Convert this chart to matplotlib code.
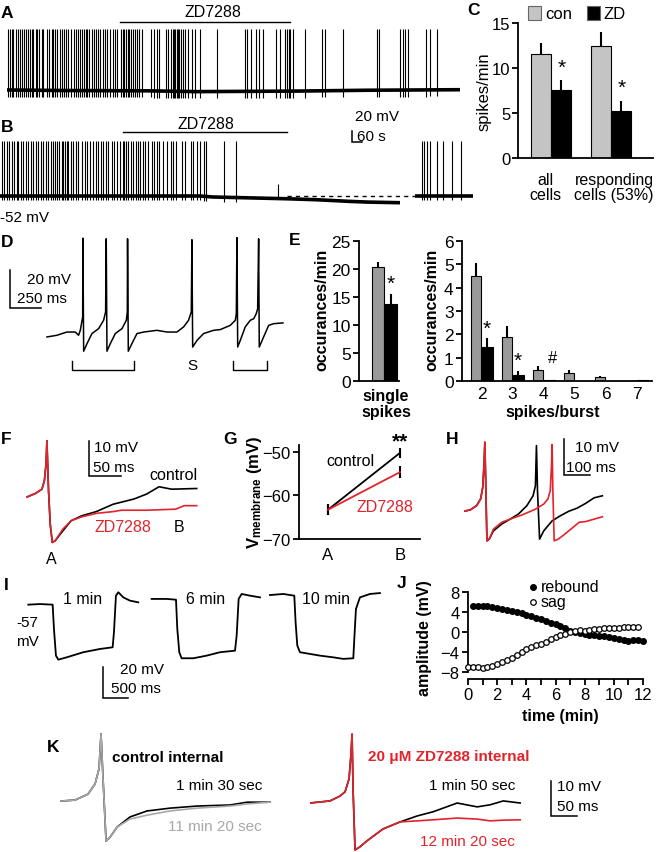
import matplotlib
matplotlib.use('Agg')
import matplotlib.pyplot as plt
import numpy as np

plt.rcParams['font.family'] = ['Liberation Sans', 'DejaVu Sans']
plt.rcParams['mathtext.fontset'] = 'custom'
plt.rcParams['mathtext.rm'] = 'Liberation Sans'
plt.rcParams['mathtext.bf'] = 'Liberation Sans:bold'

# ---------------- data ----------------
# A / B : long recordings, time in min, Vm in mV
a_base_t = [0, 6, 14, 19, 29, 36, 45.3]
a_base_v = [-55, -56, -56.5, -58, -57, -55.5, -54.5]
a_peak = 55
a_spikes = [0.13, 0.3, 0.47, 0.63, 0.9, 1.13, 1.3, 1.5, 1.7, 1.9, 2.1, 2.3, 2.5, 2.63, 2.9,
            3.03, 3.23, 3.47, 3.57, 4.03, 4.23, 4.47, 4.63, 4.83, 5.03, 5.3, 5.5, 5.7, 5.9,
            6.13, 6.37, 6.7, 6.9, 7.13, 7.3, 7.5, 7.7, 7.9, 8.03, 8.23, 8.47, 8.7, 8.9, 9.13,
            9.3, 9.57, 9.8, 10.03, 10.3, 10.57, 10.8, 11.03, 11.37, 11.57, 11.7, 11.9, 12.07,
            12.23, 12.37, 12.57, 12.8, 13.03, 13.23, 13.47, 14.37, 14.7, 14.97, 15.23, 15.9,
            16.13, 16.37, 16.57, 16.7, 16.83, 16.97, 17.1, 17.23, 17.37, 17.57, 17.83, 18.13,
            18.47, 18.8, 19.3, 20.97, 23.8, 24.03, 24.37, 24.9, 25.23, 25.63, 26.9, 27.3, 27.8,
            27.97, 28.17, 28.3, 28.63, 29.8, 31.47, 31.8, 33.63, 36.97, 37.23, 39.3, 39.57,
            39.77, 40.13, 41.9, 42.3, 42.97]

b_base_t = [0, 20, 21.3, 28.7, 31.7, 35, 36.7, 40]
b_base_v = [-52, -52, -53.8, -57, -58.8, -61.8, -63, -64.2]
b_late_t = [41.5, 47.3]
b_late_v = [-52, -52]
b_rest = -52
b_peak = 48
b_spikes = [0.17, 0.4, 0.67, 0.93, 1.17, 1.4, 1.67, 1.83, 2.07, 2.33, 2.6, 2.83, 3.07, 3.33,
            3.6, 3.83, 4.07, 4.33, 4.6, 4.83, 5.07, 5.33, 5.5, 5.67, 5.93, 6.17, 6.33, 6.5,
            6.67, 6.83, 7.07, 7.33, 7.6, 7.83, 8.17, 8.5, 8.73, 9.0, 9.27, 9.6, 9.83, 10.07,
            10.33, 10.6, 10.83, 11.17, 11.4, 11.67, 12.0, 12.27, 12.4, 12.6, 12.83, 13.07,
            13.33, 13.6, 13.83, 14.0, 14.27, 14.5, 14.83, 15.17, 15.4, 15.67, 15.93, 16.33,
            16.67, 17.07, 17.33, 17.6, 18.17, 18.5, 19.07, 19.33, 19.73, 20.0, 20.4, 20.6,
            22.4, 23.6]
b_small_spike_t = [27.83]
b_small_spike_peak = -30
b_late_spikes = [42.17, 42.4, 42.67, 43.0, 43.67, 44.33, 45.17, 46.07]

# C : spikes/min
c_groups = ['all\ncells', 'responding\ncells (53%)']
c_con = [11.55, 12.5]
c_con_err = [1.25, 1.55]
c_zd = [7.6, 5.25]
c_zd_err = [1.05, 1.1]

# D : burst / single spike trace (ms, mV)
d_t = [0, 81, 161, 228, 255, 269, 288, 290, 296, 323, 363, 417, 457, 473, 478, 484, 511, 551,
       605, 640, 648, 650, 656, 685, 726, 780, 887, 968, 1048, 1102, 1142, 1164, 1169, 1175,
       1210, 1263, 1344, 1398, 1478, 1519, 1527, 1532, 1538, 1559, 1599, 1640, 1667, 1688,
       1699, 1707, 1712, 1747, 1788, 1828, 1903]
d_v = [-60, -59.1, -57.4, -57.4, -59.1, -56.5, -49.5, -8, -67.5, -63.5, -58.2, -55.6, -51.2,
       -46.8, -8.3, -67.5, -63.5, -58.2, -55.6, -51.2, -46.8, -8.3, -67.5, -63.5, -58.2, -57.4,
       -56.5, -57.4, -57.4, -54.7, -51.2, -46.8, -8.8, -65.3, -61.8, -58.2, -56.5, -56.1, -53.9,
       -51.2, -47.7, -7.7, -65.3, -61.8, -54.7, -51.2, -50.4, -47.7, -45.1, -8.3, -65.3, -60,
       -53.9, -53, -52.6]

# E : occurances/min
e_single_con, e_single_con_err = 20.3, 0.9
e_single_zd, e_single_zd_err = 13.75, 1.75
e_burst_sizes = [2, 3, 4, 5, 6, 7]
e_burst_con = [4.5, 1.87, 0.49, 0.34, 0.16, 0.0]
e_burst_con_err = [0.55, 0.5, 0.17, 0.15, 0.07, 0.0]
e_burst_zd = [1.47, 0.26, 0.04, 0.0, 0.0, 0.05]
e_burst_zd_err = [0.36, 0.18, 0.0, 0.0, 0.0, 0.0]

# F : AHP trace (ms, mV)
f_pre_t = [0, 12.8, 22.5, 26.3, 28.9, 30.2, 32.7, 35.3, 38.5, 43.0]
f_pre_v = [-51.0, -50.0, -48.8, -46.4, -41.6, -35.0, -49.2, -58.8, -64, -63.5]
f_con_t = [54.6, 67.4, 83.5, 105.9, 131.6, 163.7, 183, 202.2, 221.5, 260]
f_con_v = [-60.7, -57.8, -56.4, -55.2, -53.1, -51.6, -50.2, -48.1, -48.8, -48.6]
f_zd_t = [54.6, 67.4, 83.5, 105.9, 131.6, 144.5, 183, 227.9, 240.8, 260]
f_zd_v = [-60.2, -57.8, -56.7, -55.7, -55.2, -54.8, -54.8, -54.5, -53.5, -53.5]

# G : Vm at A and B
g_points = ['A', 'B']
g_con = [-63.3, -50.3]
g_con_err = [1.3, 1.2]
g_zd = [-63.3, -54.7]
g_zd_err = [1.3, 1.3]

# H : spike pairs (ms, mV)
h_pre_t = [0, 24, 48, 64, 72, 77, 80, 84, 88, 97]
h_pre_v = [-55.4, -55.0, -53.8, -51.8, -48.4, -41.6, -35.3, -49.4, -64, -63.5]
h_con_t = [113, 145, 177, 209, 241, 265, 274, 278, 282, 290, 306, 338, 370, 402, 434, 467, 499, 531]
h_con_v = [-61.1, -59.1, -57.7, -56.2, -53.8, -50.9, -48.0, -36.3, -49.4, -63.5, -61.1, -58.2,
           -56.7, -55.4, -54.5, -53.1, -51.5, -50.9]
h_zd_t = [113, 145, 177, 225, 274, 306, 322, 331, 336, 338, 341, 346, 362, 386, 418, 442, 467, 499, 531]
h_zd_v = [-60.6, -58.6, -57.7, -56.4, -54.8, -53.3, -51.8, -49.4, -41.6, -36.0, -49.4, -64,
          -63.5, -62.1, -60.1, -58.6, -58.4, -57.7, -57.0]

# I : hyperpolarizing steps (ms, mV)
i_labels = ['1 min', '6 min', '10 min']
i1_t = [0, 233, 487, 513, 553, 600, 767, 1100, 1433, 1687, 1713, 1753, 1800, 1900, 2033, 2200]
i1_v = [-57, -56.6, -57, -72.7, -89.9, -92.5, -91, -87.7, -85.6, -84.5, -74.8, -51.2, -49.0,
        -52.3, -54.4, -55.5]
i2_t = [0, 300, 487, 513, 553, 600, 833, 1100, 1367, 1667, 1700, 1740, 1800, 1967, 2167]
i2_v = [-53.3, -53.3, -53.8, -72.7, -87.8, -91.6, -91.6, -89.9, -87.7, -86.7, -77, -53.3,
        -50.1, -51.2, -52.3]
i3_t = [0, 267, 487, 513, 547, 600, 800, 1000, 1267, 1467, 1667, 1687, 1720, 1800, 2000, 2200]
i3_v = [-50.8, -50.1, -51.2, -68.4, -83.4, -87.7, -88.8, -89.9, -91, -92.0, -91.6, -79.1,
        -59.8, -52.3, -50.1, -49.5]

# J : amplitude vs time
j_rebound_t = [0.33, 0.67, 1.0, 1.33, 1.67, 2.0, 2.33, 2.67, 3.0, 3.33, 3.67, 4.0, 4.33, 4.67,
               5.0, 5.33, 5.67, 6.0, 6.33, 6.67, 7.0, 7.33, 7.67, 8.0, 8.33, 8.67, 9.0, 9.33,
               9.67, 10.0, 10.33, 10.67, 11.0, 11.33, 11.67, 12.0]
j_rebound = [5.2, 5.3, 5.2, 5.3, 5.1, 4.9, 4.7, 4.5, 4.3, 4.1, 3.8, 3.5, 3.2, 2.9, 2.6, 2.2,
             1.9, 1.7, 1.3, 0.8, 0.3, 0.0, -0.2, -0.3, -0.5, -0.6, -0.7, -0.8, -0.9, -1.1,
             -1.3, -1.5, -1.7, -1.6, -1.5, -1.7]
j_sag_t = [0, 0.33, 0.67, 1.0, 1.33, 1.67, 2.0, 2.33, 2.67, 3.0, 3.33, 3.67, 4.0, 4.33, 4.67,
           5.0, 5.33, 5.67, 6.0, 6.33, 6.67, 7.0, 7.33, 7.67, 8.0, 8.33, 8.67, 9.0, 9.33, 9.67,
           10.0, 10.33, 10.67, 11.0, 11.33, 11.67]
j_sag = [-7.0, -6.9, -7.0, -7.1, -6.9, -6.7, -6.4, -6.0, -5.5, -5.1, -4.5, -3.9, -3.4, -2.9,
         -2.5, -2.3, -1.9, -1.4, -1.0, -0.6, -0.3, 0.0, 0.2, 0.4, 0.3, 0.5, 0.6, 0.7, 0.8,
         0.8, 0.8, 0.9, 1.0, 1.0, 1.1, 1.1]

# K : internal ZD7288 (ms, mV)
k1_pre_t = [0, 28.8, 53.8, 67.3, 75, 78.8, 82.7, 88.5, 96, 109.6]
k1_pre_v = [-52.6, -52.3, -50.6, -47.7, -43.4, -33.4, -46.3, -64, -62.9, -60]
k1_early_t = [134.6, 167.3, 211.5, 263.5, 326.9, 359.6, 403.8]
k1_early_v = [-57.1, -55.4, -54.6, -54.0, -53.7, -52.9, -52.9]
k1_late_t = [134.6, 167.3, 211.5, 263.5, 326.9, 359.6, 403.8]
k1_late_v = [-57.7, -56.6, -55.4, -54.6, -54.0, -53.4, -52.9]
k2_pre_t = [0, 38.5, 57.7, 67.3, 75, 78.8, 80.8, 82.7, 86.5, 96.2, 109.6, 140.4, 173.1]
k2_pre_v = [-50.6, -50, -48.6, -47.4, -43.7, -36.6, -30.9, -46.6, -64, -63.1, -61.4, -58, -56]
k2_early_t = [205.8, 236.5, 282.7, 321.2, 346.2, 371.2, 403.8]
k2_early_v = [-54.3, -53.1, -50.6, -51.7, -51.1, -50.0, -50.6]
k2_late_t = [205.8, 236.5, 282.7, 321.2, 346.2, 371.2, 403.8]
k2_late_v = [-55.7, -55.4, -54.9, -55.2, -55.7, -55.5, -55.4]

# ---------------- layout helpers ----------------
RED = '#e3232c'
GRAY_C = '#c4c4c4'
GRAY_E = '#9a9a9a'
W, H = 656, 853
fig = plt.figure(figsize=(W / 100, H / 100), dpi=100)


def px_axes(x0, y0, x1, y1):
    return fig.add_axes([x0 / W, 1 - y1 / H, (x1 - x0) / W, (y1 - y0) / H])


def trace_axes(x0, y0, x1, y1, xlim, ylim):
    ax = px_axes(x0, y0, x1, y1)
    ax.set_xlim(xlim)
    ax.set_ylim(ylim)
    ax.axis('off')
    return ax


def join(*parts):
    return np.concatenate([np.asarray(p, dtype=float) for p in parts])


def bar_axes_style(ax, fs):
    for s in ['top', 'right']:
        ax.spines[s].set_visible(False)
    ax.spines['left'].set_linewidth(1.3)
    ax.spines['bottom'].set_linewidth(1.3)
    ax.tick_params(axis='y', direction='out', length=4, width=1.3, labelsize=fs, pad=2)
    ax.tick_params(axis='x', length=0, labelsize=fs)


# ---------------- A ----------------
axA = trace_axes(7, 25, 467, 105, (0, 46), (-80.5, 65))
axA.plot(a_base_t, a_base_v, color='black', lw=2.6, solid_capstyle='butt')
a_b = np.interp(a_spikes, a_base_t, a_base_v)
axA.vlines(a_spikes, a_b - 12, a_peak, color='black', lw=0.8)

# ---------------- B ----------------
axB = trace_axes(0, 135, 480, 215, (0, 48), (-84.7, 60.7))
axB.plot(b_base_t, b_base_v, color='black', lw=2.6, solid_capstyle='butt')
axB.plot(b_late_t, b_late_v, color='black', lw=2.6, solid_capstyle='butt')
b_b = np.interp(b_spikes, b_base_t, b_base_v)
axB.vlines(b_spikes, b_b - 8, b_peak, color='black', lw=0.8)
b_sb = np.interp(b_small_spike_t, b_base_t, b_base_v)
axB.vlines(b_small_spike_t, b_sb, b_small_spike_peak, color='black', lw=0.8)
axB.vlines(b_late_spikes, b_rest - 8, b_peak, color='black', lw=0.8)
axB.plot([b_base_t[3], b_late_t[0]], [b_rest, b_rest], color='black', lw=1, ls=(0, (3, 3)))

# ---------------- C ----------------
axC = px_axes(518, 24, 653, 159)
xc = np.arange(len(c_groups))
axC.bar(xc - 0.17, c_con, 0.34, color=GRAY_C, edgecolor='black', lw=0.8,
        yerr=[[0] * 2, c_con_err], error_kw=dict(elinewidth=1.5, capsize=0), zorder=2)
axC.bar(xc + 0.17, c_zd, 0.34, color='black', edgecolor='black', lw=0.8,
        yerr=[[0] * 2, c_zd_err], error_kw=dict(elinewidth=1.5, capsize=0), zorder=2)
axC.set_xlim(-0.55, 1.7)
axC.set_ylim(0, 15)
axC.set_yticks([0, 5, 10, 15])
axC.set_xticks([])
bar_axes_style(axC, 12)
axC.tick_params(axis='y', pad=1.5)
for i in range(2):
    axC.text(xc[i] + 0.17, c_zd[i] + c_zd_err[i] + 0.4, '*', ha='center', va='bottom', fontsize=15)

# ---------------- D ----------------
axD = trace_axes(40, 232, 292, 360, (-56, 1976), (-71.6, -4.2))
axD.plot(d_t, d_v, color='black', lw=1.1)

# ---------------- E ----------------
axE1 = px_axes(359, 242, 399, 382)
axE1.bar([0], [e_single_con], 1, color=GRAY_E, edgecolor='black', lw=0.8,
         yerr=[[0], [e_single_con_err]], error_kw=dict(elinewidth=1.5, capsize=0))
axE1.bar([1], [e_single_zd], 1, color='black', edgecolor='black', lw=0.8,
         yerr=[[0], [e_single_zd_err]], error_kw=dict(elinewidth=1.5, capsize=0))
axE1.set_xlim(-1.6, 1.7)
axE1.set_ylim(0, 25)
axE1.set_yticks([0, 5, 10, 15, 20, 25])
axE1.set_xticks([])
bar_axes_style(axE1, 12.5)
axE1.text(1, e_single_zd + e_single_zd_err + 0.3, '*', ha='center', va='bottom', fontsize=15)

axE2 = px_axes(462, 242, 652, 382)
xe = np.array(e_burst_sizes, dtype=float)
axE2.bar(xe - 0.18, e_burst_con, 0.35, color=GRAY_E, edgecolor='black', lw=0.8,
         yerr=[[0] * 6, e_burst_con_err], error_kw=dict(elinewidth=1.5, capsize=0))
axE2.bar(xe + 0.18, e_burst_zd, 0.35, color='black', edgecolor='black', lw=0.8,
         yerr=[[0] * 6, e_burst_zd_err], error_kw=dict(elinewidth=1.5, capsize=0))
axE2.set_xlim(1.37, 7.5)
axE2.set_ylim(0, 6)
axE2.set_yticks(range(7))
axE2.set_xticks(e_burst_sizes)
bar_axes_style(axE2, 12.5)
for i in [0, 1]:
    axE2.text(xe[i] + 0.18, e_burst_zd[i] + e_burst_zd_err[i] + 0.02, '*',
              ha='center', va='bottom', fontsize=15)
axE2.text(xe[2] + 0.3, e_burst_con[2] + 0.2, '#', ha='center', va='bottom', fontsize=12)

# ---------------- F ----------------
axF = trace_axes(25, 438, 200, 548, (-3.4, 265), (-65.3, -33.9))
axF.plot(join(f_pre_t, f_con_t), join(f_pre_v, f_con_v), color='black', lw=1.2)
axF.plot(join(f_pre_t, f_zd_t), join(f_pre_v, f_zd_v), color=RED, lw=1.2)

# ---------------- G ----------------
axG = px_axes(299, 446, 420, 540)
xg = np.arange(2)
axG.errorbar(xg, g_con, yerr=g_con_err, color='black', lw=1.3, elinewidth=1.5, capsize=0)
axG.errorbar(xg, g_zd, yerr=g_zd_err, color=RED, ecolor='black', lw=1.3, elinewidth=1.5, capsize=0)
axG.set_xlim(-0.403, 1.278)
axG.set_ylim(-70, -48.5)
axG.set_yticks([-50, -60, -70])
axG.set_xticks(xg)
axG.set_xticklabels(g_points)
bar_axes_style(axG, 12)
axG.tick_params(axis='x', pad=6)

# ---------------- H ----------------
axH = trace_axes(464, 438, 605, 548, (0, 541), (-65.8, -33.8))
axH.plot(join(h_pre_t, h_con_t), join(h_pre_v, h_con_v), color='black', lw=1.2)
axH.plot(join(h_pre_t, h_zd_t), join(h_pre_v, h_zd_v), color=RED, lw=1.2)

# ---------------- I ----------------
axI = trace_axes(25, 588, 385, 665, (-66, 7134), (-95.3, -45.6))
i_offsets = [0, 2467, 4833]
for (tt, vv), off in zip([(i1_t, i1_v), (i2_t, i2_v), (i3_t, i3_v)], i_offsets):
    axI.plot(np.asarray(tt) + off, vv, color='black', lw=1.3)

# ---------------- J ----------------
axJ = px_axes(468, 590.5, 643, 680)
axJ.plot(j_rebound_t, j_rebound, 'o', ms=4, color='black', clip_on=False, zorder=3)
axJ.plot(j_sag_t, j_sag, 'o', ms=4, mfc='white', mec='black', mew=0.9, clip_on=False, zorder=3)
axJ.set_xlim(0, 12)
axJ.set_ylim(-9.4, 8.5)
axJ.set_yticks([-8, -4, 0, 4, 8])
axJ.set_xticks(range(0, 13, 2))
axJ.set_xticks(range(13), minor=True)
bar_axes_style(axJ, 12)
axJ.spines['left'].set_bounds(-8, 8)
axJ.tick_params(axis='x', which='both', direction='out', length=4, width=1.3, labelsize=12, pad=2)

# ---------------- K ----------------
axK1 = trace_axes(60, 733, 275, 853, (0, 413), (-67.1, -32.9))
axK1.plot(join(k1_pre_t, k1_early_t), join(k1_pre_v, k1_early_v), color='black', lw=1.2)
axK1.plot(join(k1_pre_t, k1_late_t), join(k1_pre_v, k1_late_v), color='#a8a8a8', lw=1.2)
axK2 = trace_axes(310, 733, 525, 853, (0, 413), (-64.6, -30.3))
axK2.plot(join(k2_pre_t, k2_early_t), join(k2_pre_v, k2_early_v), color='black', lw=1.2)
axK2.plot(join(k2_pre_t, k2_late_t), join(k2_pre_v, k2_late_v), color=RED, lw=1.2)

# ---------------- text, scale bars (pixel overlay) ----------------
ov = fig.add_axes([0, 0, 1, 1])
ov.set_xlim(0, W)
ov.set_ylim(H, 0)
ov.axis('off')
ov.patch.set_alpha(0)


def label(x, y, s, **kw):
    kw.setdefault('fontsize', 11)
    ov.text(x, y, s, va='center', **kw)


def scalebar(x, y_top, y_bot, x_end, lw=1.1):
    ov.plot([x, x, x_end], [y_top, y_bot, y_bot], color='black', lw=lw, solid_joinstyle='miter')


for s, x, y in [('A', 7, 13), ('B', 7, 127), ('C', 473, 10), ('D', 7, 242), ('E', 295, 240),
                ('F', 6, 440), ('G', 230, 440), ('H', 452, 440), ('I', 6, 585), ('J', 402, 583),
                ('K', 53, 747)]:
    label(x, y, s, ha='center', fontsize=12.5, fontweight='bold')

# A / B
ov.plot([120, 290], [23, 23], color='black', lw=1)
label(213, 12, 'ZD7288', ha='center', fontsize=11.5)
ov.plot([123, 287], [133, 133], color='black', lw=1)
label(206, 124, 'ZD7288', ha='center', fontsize=11.5)
scalebar(352, 132, 143, 362)
label(355, 117, '20 mV', ha='left', fontsize=11)
label(357, 137, '60 s', ha='left', fontsize=11)
label(0, 218, '-52 mV', ha='left', fontsize=11)

# C legend, labels
ov.add_patch(plt.Rectangle((528, 7), 13, 14, facecolor=GRAY_C, edgecolor='#666666', lw=0.8))
label(545, 14, 'con', ha='left', fontsize=12)
ov.add_patch(plt.Rectangle((587, 7), 13, 14, facecolor='black', edgecolor='#666666', lw=0.8))
label(603, 14, 'ZD', ha='left', fontsize=12)
ov.text(484, 92, 'spikes/min', rotation=90, ha='center', va='center', fontsize=12)
for s, x in zip(c_groups, [545, 614]):
    ov.text(x, 188, s, ha='center', va='center', fontsize=11.5, linespacing=1.05)

# D
scalebar(10, 271, 309, 41)
label(27, 280, '20 mV', ha='left', fontsize=11)
label(17, 299, '250 ms', ha='left', fontsize=11)
for x0, x1 in [(72, 134), (233, 267)]:
    ov.plot([x0, x0, x1, x1], [362, 371, 371, 362], color='black', lw=1)
label(192, 366, 'S', ha='center', fontsize=11)

# E labels
ov.text(322, 310, 'occurances/min', rotation=90, ha='center', va='center', fontsize=11.5,
        fontweight='bold')
ov.text(432, 310, 'occurances/min', rotation=90, ha='center', va='center', fontsize=11.5,
        fontweight='bold')
label(386, 396, 'single', ha='center', fontsize=11.5, fontweight='bold')
label(386, 413, 'spikes', ha='center', fontsize=11.5, fontweight='bold')
label(553, 413, 'spikes/burst', ha='center', fontsize=11.5, fontweight='bold')

# F
scalebar(89, 442, 477, 121)
label(94, 448, '10 mV', ha='left', fontsize=11)
label(93, 468, '50 ms', ha='left', fontsize=11)
label(173, 475, 'control', ha='center', fontsize=11.5)
label(123, 528, 'ZD7288', ha='center', fontsize=11.5, color=RED)
label(179, 528, 'B', ha='center', fontsize=11.5)
label(51, 559, 'A', ha='center', fontsize=11.5)

# G
ov.text(255, 492, r'$\mathbf{V_{membrane}}$ (mV)', rotation=90, ha='center', va='center',
        fontsize=12, fontweight='bold')
label(350, 462, 'control', ha='center', fontsize=11.5)
label(385, 507, 'ZD7288', ha='center', fontsize=11.5, color=RED)
label(400, 442, '**', ha='center', fontsize=15, fontweight='bold')

# H
scalebar(564, 440, 476, 590)
label(575, 448, '10 mV', ha='left', fontsize=11)
label(566, 468, '100 ms', ha='left', fontsize=11)

# I
for s, x in zip(i_labels, [83, 206, 326]):
    label(x, 600, s, ha='center', fontsize=11.5)
label(27, 623, '-57', ha='center', fontsize=11)
label(27, 642, 'mV', ha='center', fontsize=11)
scalebar(103, 668, 699, 128)
label(120, 670, '20 mV', ha='left', fontsize=11)
label(111, 689, '500 ms', ha='left', fontsize=11)

# J
ov.text(425, 638, 'amplitude (mV)', rotation=90, ha='center', va='center', fontsize=11.5,
        fontweight='bold')
label(560, 717, 'time (min)', ha='center', fontsize=11.5, fontweight='bold')
ov.plot([533], [588], 'o', ms=4, color='black')
label(541, 588, 'rebound', ha='left', fontsize=11.5)
ov.plot([533], [603], 'o', ms=4, mfc='white', mec='black', mew=0.9)
label(541, 603, 'sag', ha='left', fontsize=11.5)

# K
label(112, 758, 'control internal', ha='left', fontsize=11, fontweight='bold')
label(262, 786, '1 min 30 sec', ha='right', fontsize=11)
label(262, 827, '11 min 20 sec', ha='right', fontsize=11, color='#a8a8a8')
label(368, 757, '20 μM ZD7288 internal', ha='left', fontsize=11, fontweight='bold', color=RED)
label(515, 786, '1 min 50 sec', ha='right', fontsize=11)
label(515, 842, '12 min 20 sec', ha='right', fontsize=11, color=RED)
scalebar(551, 782, 817, 577)
label(557, 787, '10 mV', ha='left', fontsize=11)
label(557, 807, '50 ms', ha='left', fontsize=11)

fig.savefig('out.png', dpi=100)
